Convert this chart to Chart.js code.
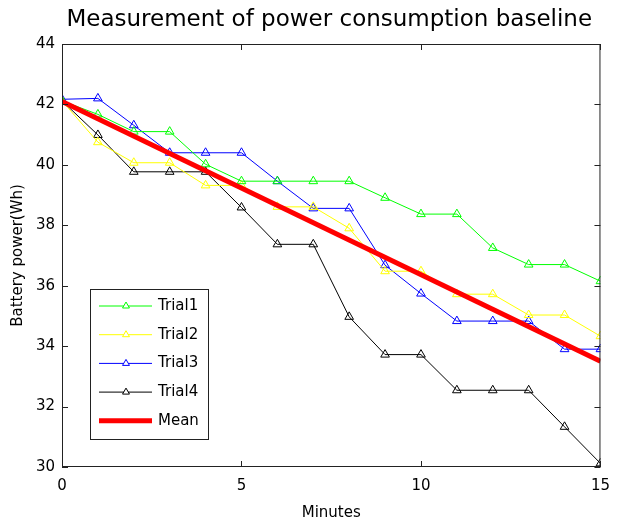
<!DOCTYPE html>
<html>
<head>
<meta charset="utf-8">
<title>Measurement of power consumption baseline</title>
<script src="https://cdn.jsdelivr.net/npm/chart.js@4/dist/chart.umd.min.js"></script>
<style>
    body { margin: 0; background: #fff; }
    #wrap { width: 620px; height: 524px; }
</style>
</head>
<body>
<div id="wrap"><canvas id="chart" width="620" height="524"></canvas></div>
<script>
const minutes = [0, 1, 2, 3, 4, 5, 6, 7, 8, 9, 10, 11, 12, 13, 14, 15];
const trial1 = [42.12, 41.67, 41.1, 41.1, 40.02, 39.46, 39.46, 39.46, 39.46, 38.91, 38.37, 38.37, 37.25, 36.7, 36.7, 36.15];
const trial2 = [42.12, 40.75, 40.07, 40.07, 39.32, 39.32, 38.61, 38.61, 37.9, 36.48, 36.48, 35.72, 35.72, 35.03, 35.03, 34.33];
const trial3 = [42.17, 42.2, 41.31, 40.4, 40.4, 40.4, 39.46, 38.56, 38.56, 36.68, 35.74, 34.83, 34.83, 34.83, 33.9, 33.9];
const trial4 = [42.12, 40.99, 39.77, 39.77, 39.77, 38.59, 37.37, 37.37, 34.97, 33.72, 33.72, 32.54, 32.54, 32.54, 31.33, 30.12];
const meanMinutes = [0, 15];
const meanPower = [42.1, 33.5];
const xTicks = [0, 5, 10, 15];
const yTicks = [30, 32, 34, 36, 38, 40, 42, 44];

const FONT = '"DejaVu Sans", sans-serif';

function toPoints(xs, ys) {
    return xs.map((x, i) => ({ x: x, y: ys[i] }));
}

function trialSet(label, values, color) {
    return {
        label: label,
        data: toPoints(minutes, values),
        borderColor: color,
        backgroundColor: 'rgba(0,0,0,0)',
        borderWidth: 1,
        pointStyle: 'triangle',
        pointRadius: 5,
        pointBorderWidth: 1,
        pointBorderColor: color,
        pointBackgroundColor: 'rgba(0,0,0,0)',
        tension: 0,
        order: 2
    };
}

// title, axes box with inward ticks, and the legend inside the plot
const framePlugin = {
    id: 'frame',
    afterDraw(chart) {
        const ctx = chart.ctx;
        const a = chart.chartArea;
        const xs = chart.scales.x;
        const ys = chart.scales.y;
        const tick = 6;

        ctx.save();
        ctx.strokeStyle = '#222';
        ctx.lineWidth = 1;
        ctx.strokeRect(a.left + 0.5, a.top + 0.5, a.right - a.left - 1, a.bottom - a.top - 1);
        ctx.beginPath();
        xTicks.forEach(v => {
            const px = Math.round(xs.getPixelForValue(v)) + 0.5;
            ctx.moveTo(px, a.bottom);
            ctx.lineTo(px, a.bottom - tick);
            ctx.moveTo(px, a.top);
            ctx.lineTo(px, a.top + tick);
        });
        yTicks.forEach(v => {
            const py = Math.round(ys.getPixelForValue(v)) + 0.5;
            ctx.moveTo(a.left, py);
            ctx.lineTo(a.left + tick, py);
            ctx.moveTo(a.right, py);
            ctx.lineTo(a.right - tick, py);
        });
        ctx.stroke();

        // title
        ctx.fillStyle = '#000';
        ctx.font = '23px ' + FONT;
        ctx.textAlign = 'center';
        ctx.textBaseline = 'alphabetic';
        ctx.fillText('Measurement of power consumption baseline', (a.left + a.right) / 2 - 2, 26);

        // legend
        const bx = a.left + 28;
        const by = a.top + 245;
        const bw = 118;
        const bh = 150;
        ctx.fillStyle = '#fff';
        ctx.fillRect(bx, by, bw, bh);
        ctx.strokeStyle = '#222';
        ctx.strokeRect(bx + 0.5, by + 0.5, bw, bh);

        ctx.font = '15px ' + FONT;
        ctx.textAlign = 'left';
        ctx.textBaseline = 'middle';
        chart.data.datasets.forEach((ds, i) => {
            const ry = by + 17 + i * 28.7;
            ctx.strokeStyle = ds.borderColor;
            ctx.lineWidth = ds.borderWidth;
            ctx.beginPath();
            ctx.moveTo(bx + 9, ry);
            ctx.lineTo(bx + 62, ry);
            ctx.stroke();
            if (ds.pointRadius > 0) {
                ctx.lineWidth = 1;
                ctx.fillStyle = '#fff';
                Chart.helpers.drawPoint(ctx, { pointStyle: 'triangle', radius: 4, borderWidth: 1 }, bx + 36, ry);
            }
            ctx.fillStyle = '#000';
            ctx.fillText(ds.label, bx + 68, ry);
        });
        ctx.restore();
    }
};

const ctx = document.getElementById('chart').getContext('2d');
const chart = new Chart(ctx, {
    type: 'line',
    data: {
        datasets: [
            trialSet('Trial1', trial1, '#00ff00'),
            trialSet('Trial2', trial2, '#ffff00'),
            trialSet('Trial3', trial3, '#0000ff'),
            trialSet('Trial4', trial4, '#000000'),
            {
                label: 'Mean',
                data: toPoints(meanMinutes, meanPower),
                borderColor: '#ff0000',
                backgroundColor: '#ff0000',
                borderWidth: 5,
                pointRadius: 0,
                tension: 0,
                order: 1
            }
        ]
    },
    options: {
        responsive: false,
        animation: false,
        layout: { padding: { top: 44, right: 10, left: 0, bottom: 0 } },
        plugins: {
            legend: { display: false },
            tooltip: { enabled: false }
        },
        scales: {
            x: {
                type: 'linear',
                min: 0,
                max: 15,
                afterBuildTicks: scale => { scale.ticks = xTicks.map(v => ({ value: v })); },
                afterFit: scale => { scale.height = 57; },
                grid: { display: false, drawTicks: false },
                border: { display: false },
                ticks: { color: '#000', padding: 10, font: { family: FONT, size: 15 } },
                title: {
                    display: true,
                    text: 'Minutes',
                    color: '#000',
                    padding: { top: 0, bottom: 2 },
                    font: { family: FONT, size: 15 }
                }
            },
            y: {
                min: 30,
                max: 44,
                afterBuildTicks: scale => { scale.ticks = yTicks.map(v => ({ value: v })); },
                afterFit: scale => { scale.width = 62; },
                grid: { display: false, drawTicks: false },
                border: { display: false },
                ticks: { color: '#000', padding: 7, font: { family: FONT, size: 15 } },
                title: {
                    display: true,
                    text: 'Battery power(Wh)',
                    color: '#000',
                    padding: { top: 9, bottom: 0 },
                    font: { family: FONT, size: 15 }
                }
            }
        }
    },
    plugins: [framePlugin]
});
</script>
</body>
</html>
